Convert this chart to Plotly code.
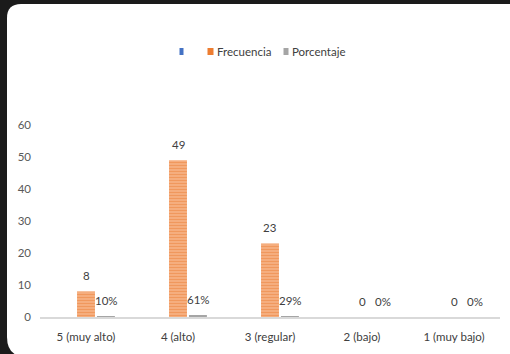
import plotly.graph_objects as go

categories = ["5 (muy alto)", "4 (alto)", "3 (regular)", "2 (bajo)", "1 (muy bajo)"]
frecuencia = [8, 49, 23, 0, 0]
porcentaje = [0.10, 0.61, 0.29, 0.0, 0.0]
porcentaje_labels = ["10%", "61%", "29%", "0%", "0%"]
serie_vacia = [None, None, None, None, None]
series_names = ["", "Frecuencia", "Porcentaje"]
series_colors = ["#4472C4", "#ED7D31", "#A5A5A5"]

W, H = 510, 354
ML, MR, MT, MB = 40, 10, 125, 37
PW, PH = W - ML - MR, H - MT - MB


def px(x):
    return (x - ML) / PW


def py(y):
    return (H - MB - y) / PH


FONT = "Lato, sans-serif"
TXT = "#404040"
FS = 11.5

fig = go.Figure()
fig.add_trace(go.Bar(x=categories, y=serie_vacia, name=series_names[0], marker_color=series_colors[0]))
fig.add_trace(go.Bar(
    x=categories, y=frecuencia, name=series_names[1],
    marker=dict(color="#ED7D31", line=dict(width=0),
                pattern=dict(shape="-", fgcolor="#EA7428", bgcolor="#F7BC93", size=3, solidity=0.6)),
))
fig.add_trace(go.Bar(x=categories, y=porcentaje, name=series_names[2],
                     marker=dict(color=series_colors[2], line=dict(width=0))))

slot = PW / len(categories) * (1 - 0.35) / 3
annotations = []
for c, v in zip(categories, frecuencia):
    annotations.append(dict(x=c, y=v, text=str(v), showarrow=False, yanchor="middle",
                            yshift=16, font=dict(family=FONT, size=FS, color=TXT)))
for c, v, t in zip(categories, porcentaje, porcentaje_labels):
    annotations.append(dict(x=c, y=v, text=t, showarrow=False, yanchor="middle",
                            xshift=slot + 1, yshift=16, font=dict(family=FONT, size=FS, color=TXT)))

# white rounded card on dark background
x0, x1, y0, y1 = 7, 515, 4, 357
r1, r2 = 14, 20
path = (f"M {px(x0)},{py(y0 + r1)} Q {px(x0)},{py(y0)} {px(x0 + r1)},{py(y0)} "
        f"L {px(x1)},{py(y0)} L {px(x1)},{py(y1)} L {px(x0 + r2)},{py(y1)} "
        f"Q {px(x0)},{py(y1)} {px(x0)},{py(y1 - r2)} Z")
shapes = [dict(type="path", xref="paper", yref="paper", path=path,
               fillcolor="white", line=dict(width=0), layer="below")]

# custom legend (small swatches with text right after)
legend_x = [179.5, 207.5, 283.5]
swatch_w = [4, 6, 5]
for lx, sw, col, name in zip(legend_x, swatch_w, series_colors, series_names):
    shapes.append(dict(type="rect", xref="paper", yref="paper",
                       x0=px(lx), x1=px(lx + sw), y0=py(55), y1=py(48),
                       fillcolor=col, line=dict(width=0)))
    if name:
        annotations.append(dict(xref="paper", yref="paper", x=px(lx + sw + 1), y=py(51.5),
                                xanchor="left", yanchor="middle", text=name, showarrow=False,
                                font=dict(family=FONT, size=FS, color=TXT)))

fig.update_layout(
    width=W, height=H,
    margin=dict(l=ML, r=MR, t=MT, b=MB, autoexpand=False),
    paper_bgcolor="#1b1b1b", plot_bgcolor="rgba(0,0,0,0)",
    barmode="group", bargap=0.35, bargroupgap=0.1,
    font=dict(family=FONT, size=FS, color=TXT),
    shapes=shapes,
    annotations=annotations,
    showlegend=False,
    xaxis=dict(showline=True, linecolor="#D9D9D9", linewidth=2, showgrid=False, automargin=False,
               ticks="", ticklabelstandoff=8, tickfont=dict(family=FONT, size=FS, color=TXT)),
    yaxis=dict(range=[0, 60], dtick=10, showgrid=False, zeroline=False, showline=False, automargin=False,
               ticks="", ticklabelstandoff=8, tickfont=dict(family=FONT, size=FS, color="#595959")),
)

fig.write_html("out.html")
